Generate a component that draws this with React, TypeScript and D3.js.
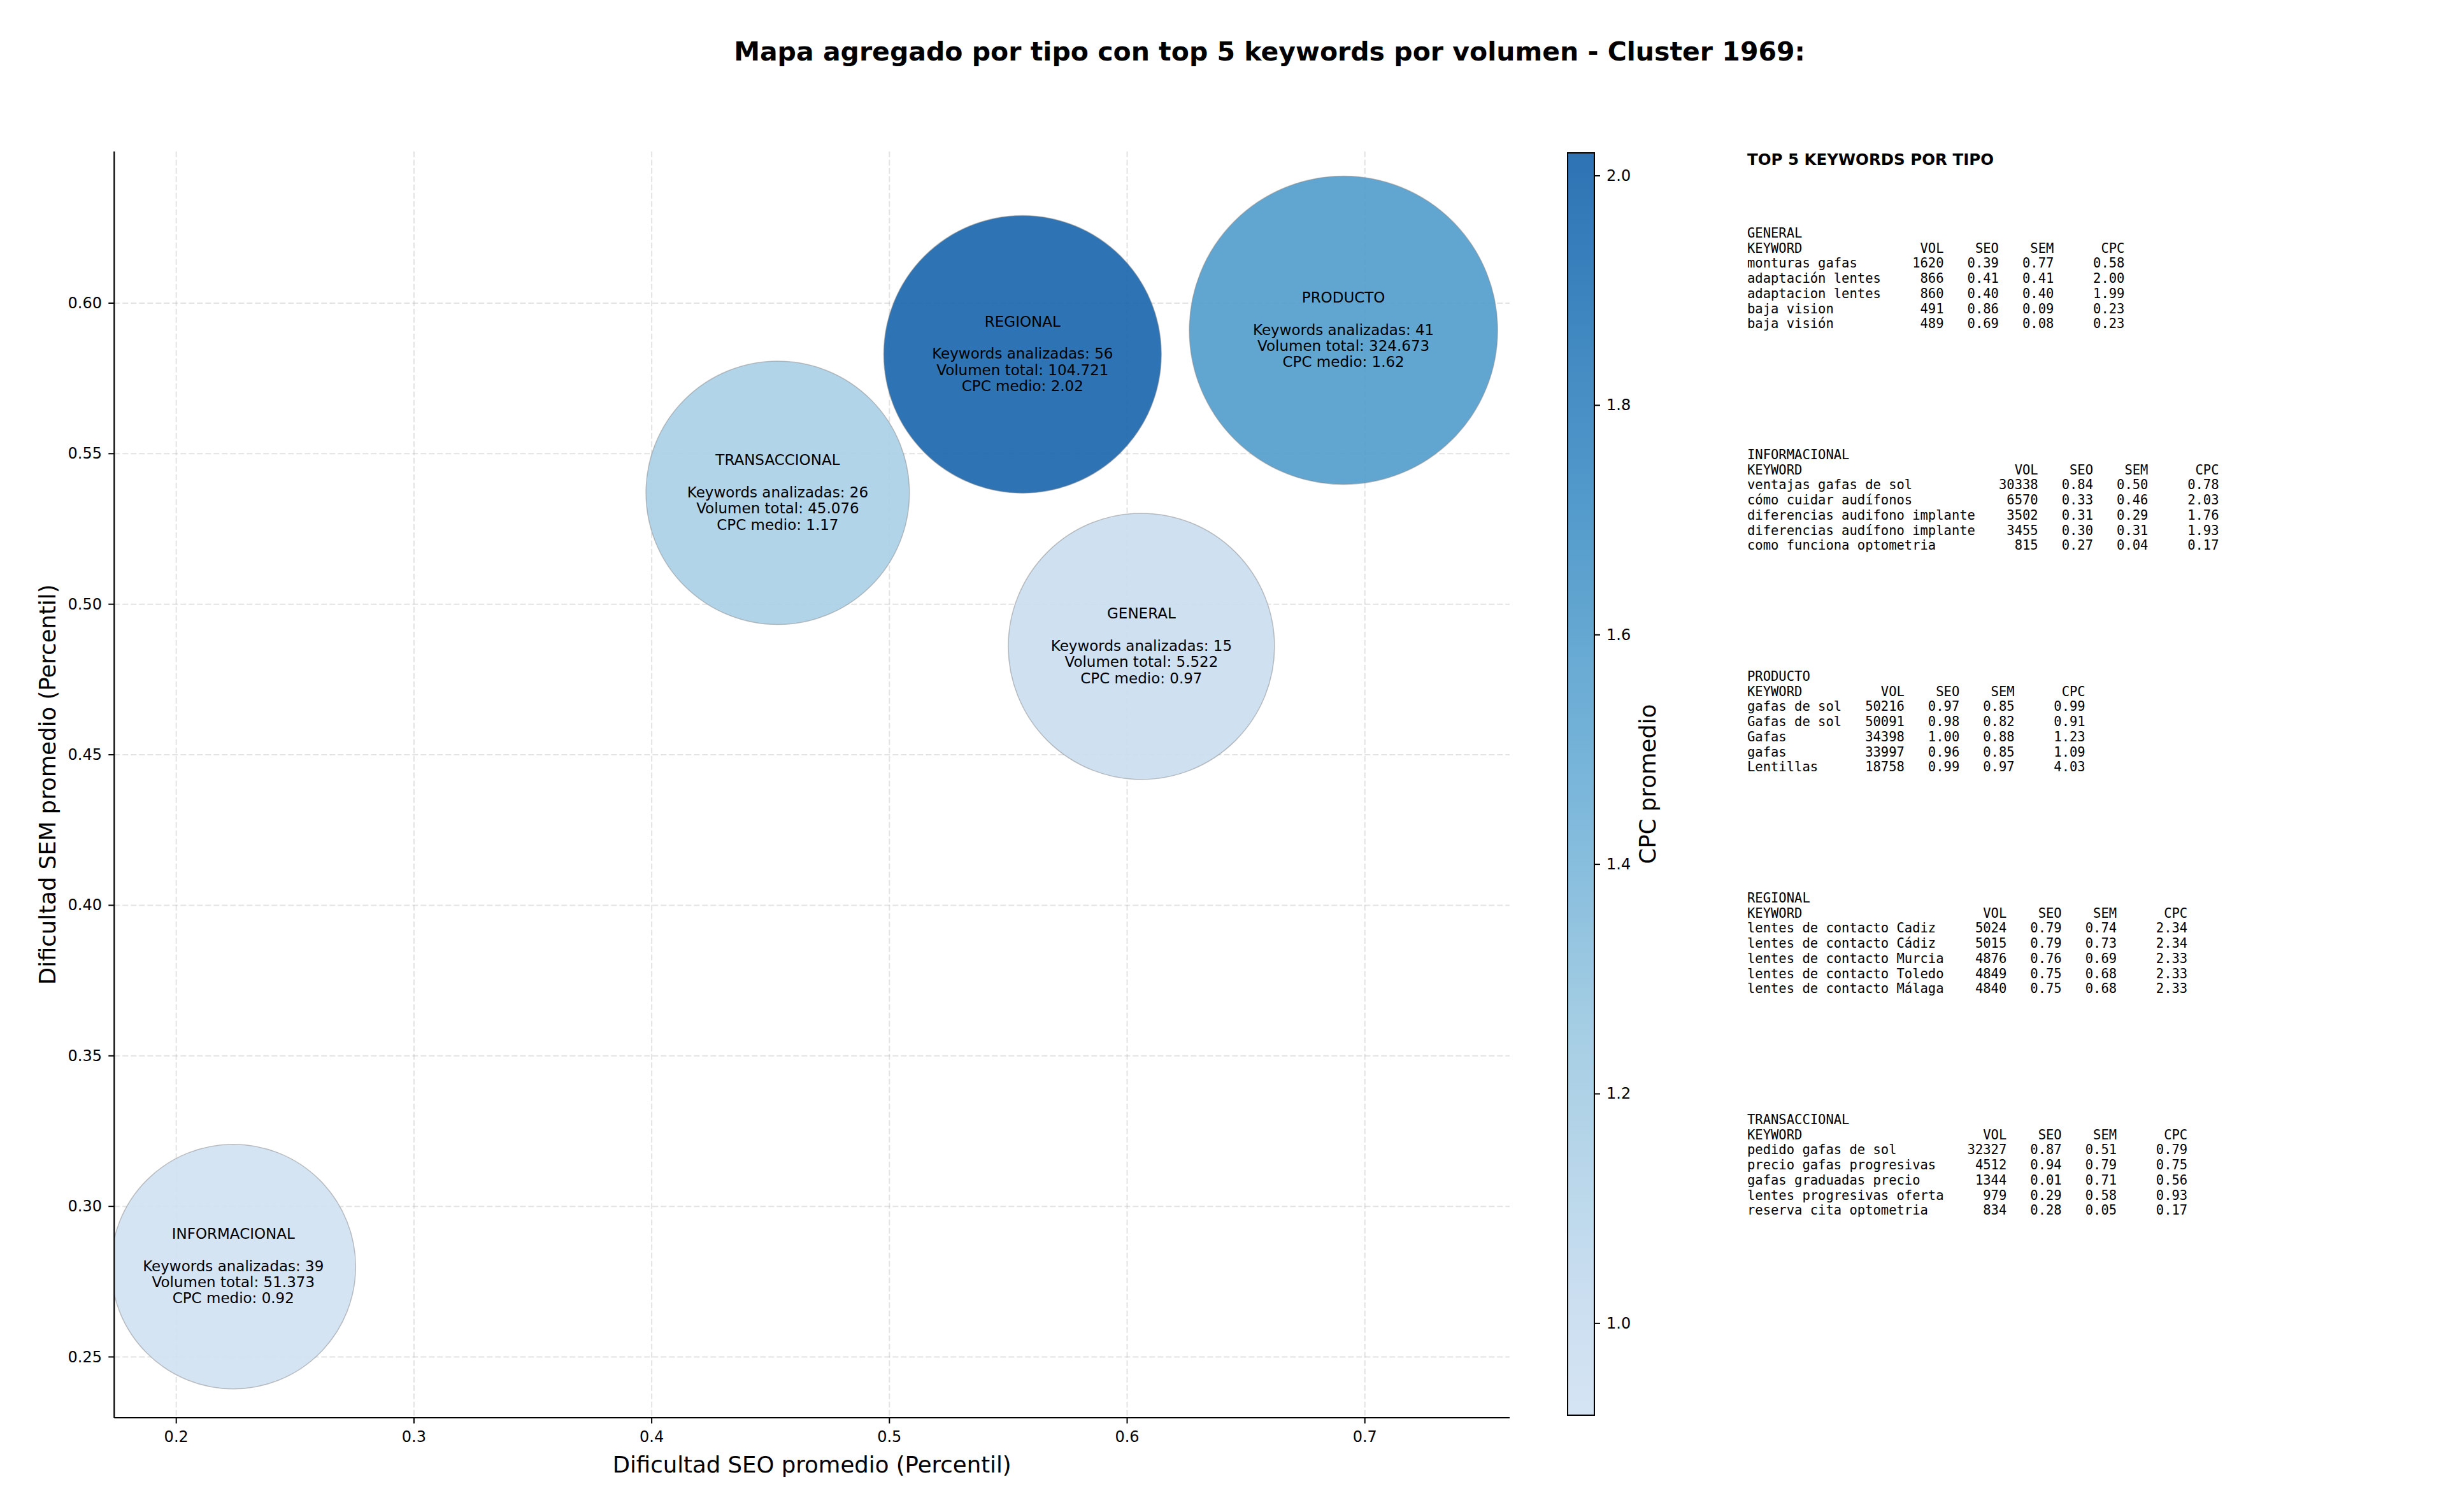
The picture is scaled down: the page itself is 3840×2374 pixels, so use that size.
import React, { useEffect } from 'react';
import * as d3 from 'd3';

// ---------- DATA ----------
const categories = ['GENERAL', 'INFORMACIONAL', 'PRODUCTO', 'REGIONAL', 'TRANSACCIONAL'];
const seoAvg = [0.606, 0.224, 0.691, 0.556, 0.453];
const semAvg = [0.486, 0.28, 0.591, 0.583, 0.537];
const keywordCounts = [15, 39, 41, 56, 26];
const totalVolumes = [5522, 51373, 324673, 104721, 45076];
const cpcAvg = [0.97, 0.92, 1.62, 2.02, 1.17];
const bubbleSize = [43700, 36900, 58600, 47500, 42800];

const xTicks = [0.2, 0.3, 0.4, 0.5, 0.6, 0.7];
const yTicks = [0.25, 0.3, 0.35, 0.4, 0.45, 0.5, 0.55, 0.6];
const cbTicks = [1.0, 1.2, 1.4, 1.6, 1.8, 2.0];

// matplotlib "Blues" colormap anchors
const bluesStops = ['#f7fbff', '#deebf7', '#c6dbef', '#9ecae1', '#6baed6', '#4292c6', '#2171b5', '#08519c', '#08306b'];

const topGeneral: [string, number, number, number, number][] = [
  ['monturas gafas', 1620, 0.39, 0.77, 0.58],
  ['adaptación lentes', 866, 0.41, 0.41, 2.0],
  ['adaptacion lentes', 860, 0.4, 0.4, 1.99],
  ['baja vision', 491, 0.86, 0.09, 0.23],
  ['baja visión', 489, 0.69, 0.08, 0.23],
];
const topInformacional: [string, number, number, number, number][] = [
  ['ventajas gafas de sol', 30338, 0.84, 0.5, 0.78],
  ['cómo cuidar audífonos', 6570, 0.33, 0.46, 2.03],
  ['diferencias audifono implante', 3502, 0.31, 0.29, 1.76],
  ['diferencias audífono implante', 3455, 0.3, 0.31, 1.93],
  ['como funciona optometria', 815, 0.27, 0.04, 0.17],
];
const topProducto: [string, number, number, number, number][] = [
  ['gafas de sol', 50216, 0.97, 0.85, 0.99],
  ['Gafas de sol', 50091, 0.98, 0.82, 0.91],
  ['Gafas', 34398, 1.0, 0.88, 1.23],
  ['gafas', 33997, 0.96, 0.85, 1.09],
  ['Lentillas', 18758, 0.99, 0.97, 4.03],
];
const topRegional: [string, number, number, number, number][] = [
  ['lentes de contacto Cadiz', 5024, 0.79, 0.74, 2.34],
  ['lentes de contacto Cádiz', 5015, 0.79, 0.73, 2.34],
  ['lentes de contacto Murcia', 4876, 0.76, 0.69, 2.33],
  ['lentes de contacto Toledo', 4849, 0.75, 0.68, 2.33],
  ['lentes de contacto Málaga', 4840, 0.75, 0.68, 2.33],
];
const topTransaccional: [string, number, number, number, number][] = [
  ['pedido gafas de sol', 32327, 0.87, 0.51, 0.79],
  ['precio gafas progresivas', 4512, 0.94, 0.79, 0.75],
  ['gafas graduadas precio', 1344, 0.01, 0.71, 0.56],
  ['lentes progresivas oferta', 979, 0.29, 0.58, 0.93],
  ['reserva cita optometria', 834, 0.28, 0.05, 0.17],
];
const topTables = [topGeneral, topInformacional, topProducto, topRegional, topTransaccional];

const titleText = 'Mapa agregado por tipo con top 5 keywords por volumen - Cluster 1969:';

// ---------- LAYOUT ----------
const W = 3840;
const H = 2374;
const plot = { left: 179.3, right: 2370, top: 237.7, bottom: 2226 };
const cb = { left: 2461, right: 2503 };

const esLocale = d3.formatLocale({ decimal: ',', thousands: '.', grouping: [3], currency: ['', '€'] });
const fmtVol = esLocale.format(',d');

export default function App() {
  useEffect(() => {
    document.body.style.margin = '0';
  }, []);

  const x = d3.scaleLinear().domain([0.1739, 0.7609]).range([plot.left, plot.right]);
  const y = d3.scaleLinear().domain([0.2298, 0.6504]).range([plot.bottom, plot.top]);
  const r = d3.scaleSqrt().domain([0, d3.max(bubbleSize)!]).range([0, 242]);

  const cpcMin = d3.min(cpcAvg)!;
  const cpcMax = d3.max(cpcAvg)!;
  const tScale = d3.scaleLinear().domain([cpcMin, cpcMax]).range([0.2, 0.8]);
  const blues = d3
    .scaleLinear<string>()
    .domain(bluesStops.map((_, i) => i / (bluesStops.length - 1)))
    .range(bluesStops)
    .interpolate(d3.interpolateRgb);
  const color = (v: number) => blues(tScale(v));

  const cbY = d3.scaleLinear().domain([cpcMin, cpcMax]).range([2222, 240]);
  const gradStops = d3.range(0, 41).map((i) => {
    const v = cpcMin + ((cpcMax - cpcMin) * i) / 40;
    return { offset: (i / 40) * 100, c: color(v) };
  });

  const order = d3.range(categories.length);

  const tickFont = 24;
  const labelFont = 35.5;
  const monoFont = 20.5;
  const lineStep = 23.7;
  const blockStep = 348;

  return (
    <svg width={W} height={H} style={{ position: 'absolute', left: 0, top: 0, background: '#fff' }} fontFamily="DejaVu Sans, sans-serif">
      <defs>
        <clipPath id="plotClip">
          <rect x={plot.left} y={plot.top} width={plot.right - plot.left} height={plot.bottom - plot.top} />
        </clipPath>
        <linearGradient id="cbGrad" x1="0" y1="1" x2="0" y2="0">
          {gradStops.map((s, i) => (
            <stop key={i} offset={`${s.offset}%`} stopColor={s.c} />
          ))}
        </linearGradient>
      </defs>
      <rect x={0} y={0} width={W} height={H} fill="#fff" />

      {/* Title */}
      <text x={1993} y={81} textAnchor="middle" dominantBaseline="central" fontWeight="bold" fontSize={41}>
        {titleText}
      </text>

      {/* Grid */}
      <g stroke="#b0b0b0" strokeOpacity={0.35} strokeWidth={2} strokeDasharray="9,4">
        {xTicks.map((t) => (
          <line key={'gx' + t} x1={x(t)} x2={x(t)} y1={plot.top} y2={plot.bottom} />
        ))}
        {yTicks.map((t) => (
          <line key={'gy' + t} x1={plot.left} x2={plot.right} y1={y(t)} y2={y(t)} />
        ))}
      </g>

      {/* Bubbles */}
      <g clipPath="url(#plotClip)">
        {order.map((i) => (
          <circle
            key={'b' + i}
            cx={x(seoAvg[i])}
            cy={y(semAvg[i])}
            r={r(bubbleSize[i])}
            fill={color(cpcAvg[i])}
            fillOpacity={0.9}
            stroke="#888"
            strokeOpacity={0.5}
            strokeWidth={1.5}
          />
        ))}
      </g>

      {/* Bubble labels */}
      {order.map((i) => {
        const cx = x(seoAvg[i]);
        const cy = y(semAvg[i]);
        const lines = [
          categories[i],
          '',
          `Keywords analizadas: ${keywordCounts[i]}`,
          `Volumen total: ${fmtVol(totalVolumes[i])}`,
          `CPC medio: ${cpcAvg[i].toFixed(2)}`,
        ];
        return (
          <g key={'l' + i}>
            {lines.map((ln, k) =>
              ln ? (
                <text key={k} x={cx} y={cy - 1 + (k - 2) * 25.4} textAnchor="middle" dominantBaseline="central" fontSize={23}>
                  {ln}
                </text>
              ) : null
            )}
          </g>
        );
      })}

      {/* Spines */}
      <line x1={plot.left} x2={plot.left} y1={plot.top} y2={plot.bottom} stroke="#000" strokeWidth={2.2} />
      <line x1={plot.left} x2={plot.right} y1={plot.bottom} y2={plot.bottom} stroke="#000" strokeWidth={2.2} />

      {/* X ticks */}
      {xTicks.map((t) => (
        <g key={'xt' + t}>
          <line x1={x(t)} x2={x(t)} y1={plot.bottom} y2={plot.bottom + 9} stroke="#000" strokeWidth={2} />
          <text x={x(t)} y={2256} textAnchor="middle" dominantBaseline="central" fontSize={tickFont}>
            {t.toFixed(1)}
          </text>
        </g>
      ))}
      {/* Y ticks */}
      {yTicks.map((t) => (
        <g key={'yt' + t}>
          <line x1={plot.left - 9} x2={plot.left} y1={y(t)} y2={y(t)} stroke="#000" strokeWidth={2} />
          <text x={160} y={y(t)} textAnchor="end" dominantBaseline="central" fontSize={tickFont}>
            {t.toFixed(2)}
          </text>
        </g>
      ))}

      {/* Axis labels */}
      <text x={(plot.left + plot.right) / 2} y={2299} textAnchor="middle" dominantBaseline="central" fontSize={labelFont}>
        Dificultad SEO promedio (Percentil)
      </text>
      <text
        transform={`translate(74, ${(plot.top + plot.bottom) / 2}) rotate(-90)`}
        textAnchor="middle"
        dominantBaseline="central"
        fontSize={labelFont}
      >
        Dificultad SEM promedio (Percentil)
      </text>

      {/* Colorbar */}
      <rect x={cb.left} y={cbY(cpcMax)} width={cb.right - cb.left} height={cbY(cpcMin) - cbY(cpcMax)} fill="url(#cbGrad)" fillOpacity={0.9} />
      <rect x={cb.left} y={cbY(cpcMax)} width={cb.right - cb.left} height={cbY(cpcMin) - cbY(cpcMax)} fill="none" stroke="#000" strokeWidth={2} />
      {cbTicks.map((t) => (
        <g key={'cb' + t}>
          <line x1={cb.right} x2={cb.right + 9} y1={cbY(t)} y2={cbY(t)} stroke="#000" strokeWidth={2} />
          <text x={2522} y={cbY(t)} dominantBaseline="central" fontSize={tickFont}>
            {t.toFixed(1)}
          </text>
        </g>
      ))}
      <text
        transform={`translate(2586, ${(cbY(cpcMax) + cbY(cpcMin)) / 2}) rotate(-90)`}
        textAnchor="middle"
        dominantBaseline="central"
        fontSize={labelFont}
      >
        CPC promedio
      </text>

      {/* Right side table */}
      <text x={2743} y={250} dominantBaseline="central" fontWeight="bold" fontSize={24.5}>
        TOP 5 KEYWORDS POR TIPO
      </text>
      {order.map((i) => {
        const rows = topTables[i];
        const maxLen = d3.max(rows, (d) => d[0].length)!;
        const header = 'KEYWORD'.padEnd(maxLen) + 'VOL'.padStart(8) + 'SEO'.padStart(7) + 'SEM'.padStart(7) + 'CPC'.padStart(9);
        const lines = [
          categories[i],
          header,
          ...rows.map(
            (d) =>
              d[0].padEnd(maxLen) +
              String(d[1]).padStart(8) +
              d[2].toFixed(2).padStart(7) +
              d[3].toFixed(2).padStart(7) +
              d[4].toFixed(2).padStart(9)
          ),
        ];
        const y0 = 366 + i * blockStep;
        return (
          <g key={'tb' + i}>
            {lines.map((ln, k) => (
              <text
                key={k}
                x={2743}
                y={y0 + k * lineStep}
                dominantBaseline="central"
                fontFamily="DejaVu Sans Mono, monospace"
                fontSize={monoFont}
                style={{ whiteSpace: 'pre' }}
              >
                {ln}
              </text>
            ))}
          </g>
        );
      })}
    </svg>
  );
}
